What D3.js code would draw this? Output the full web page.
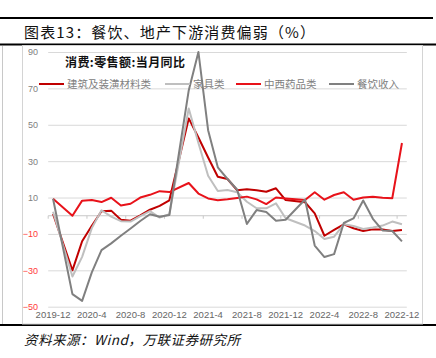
<!DOCTYPE html>
<html>
<head>
<meta charset="utf-8">
<script src="https://cdn.jsdelivr.net/npm/d3@7/dist/d3.min.js"></script>
<style>
    body { margin: 0; background: #fff; }
    svg { display: block; font-family: "Liberation Sans", Arial, sans-serif; }
    .cjk { font-family: "Noto Sans CJK SC", sans-serif; }
</style>
</head>
<body>
<div id="chart"></div>
<script>
const width = 436, height = 358;
const plot = { left: 48.2, right: 406.8, top: 52, bottom: 306.7 };

// Data points (Jan-Feb combined, plotted at Feb)
const dates = [
    "2019-12", "2020-02", "2020-03", "2020-04", "2020-05", "2020-06", "2020-07", "2020-08",
    "2020-09", "2020-10", "2020-11", "2020-12", "2021-02", "2021-03", "2021-04", "2021-05",
    "2021-06", "2021-07", "2021-08", "2021-09", "2021-10", "2021-11", "2021-12", "2022-02",
    "2022-03", "2022-04", "2022-05", "2022-06", "2022-07", "2022-08", "2022-09", "2022-10",
    "2022-11", "2022-12"
];
const building = [
    1.0, -30, -14, -5.5, 2.5, 2.8, -2.2, -2.7, 0.2, 3.3, 5.4, 8.5, 53.5, 43, 32, 21.4,
    20.2, 14, 14.5, 14, 13.2, 15.1, 8.6, 7.4, 1.3, -11, -7.8, -4.7, -6.9, -8.4, -7.5, -7.6,
    -8.4, -7.8
];
const furniture = [
    2.2, -33.4, -22.6, -6.8, 3, -0.5, -3, -3.2, -0.2, 2.5, -1, 0.8, 59, 40, 22, 13.6,
    14.1, 12.9, 7.7, 4.1, 4.1, 6.8, -1.4, -5.4, -8.4, -12.8, -11.5, -4.7, -5.6, -7.3, -6.5, -5.4,
    -3.2, -4.7
];
const medicine = [
    9.3, 0, 8.3, 8.6, 7.5, 9.9, 5.6, 6.6, 10, 11.5, 13.5, 13, 18, 12.2, 9.5, 8.5,
    9, 9.8, 10.5, 9, 6.4, 10, 9.5, 8.6, 12.9, 8.8, 11.4, 12.9, 8.8, 10, 10.4, 9.9,
    9.6, 40
];
const catering = [
    9.3, -43.1, -46.8, -31.1, -18.9, -15.2, -11, -7, -2.9, 0.8, -0.6, 0.4, 68.9, 90, 47, 26.6,
    20.2, 14.3, -4.5, 3.1, 2, -2.7, -2.2, 8.9, -16.4, -22.7, -21.1, -4, -1.5, 8.4, -1.7, -8.1,
    -8.4, -14.1
];

const seriesNames = ["建筑及装潢材料类", "家具类", "中西药品类", "餐饮收入"];
const seriesValues = [building, furniture, medicine, catering];
const seriesColors = ["#c00000", "#bfbfbf", "#e8121a", "#808080"];

const yTicks = [-50, -30, -10, 10, 30, 50, 70, 90];
const xTickLabels = ["2019-12", "2020-4", "2020-8", "2020-12", "2021-4", "2021-8",
    "2021-12", "2022-4", "2022-8", "2022-12"];

const fmt = d3.timeFormat("%Y-%m");
const months = d3.timeMonth.range(new Date(2019, 11, 1), new Date(2023, 0, 1)).map(fmt);
const toKey = label => {
    const [yr, mo] = label.split("-");
    return yr + "-" + mo.padStart(2, "0");
};

const svg = d3.select("#chart")
    .append("svg")
    .attr("width", width)
    .attr("height", height);

// page rules and frame
svg.append("rect").attr("x", 0).attr("y", 17).attr("width", 433).attr("height", 2).attr("fill", "#000");
svg.append("rect").attr("x", 0).attr("y", 43.5).attr("width", 436).attr("height", 2).attr("fill", "#000");
svg.append("rect").attr("x", 0).attr("y", 324).attr("width", 436).attr("height", 2).attr("fill", "#000");
svg.append("rect")
    .attr("x", 22.5).attr("y", 45.5)
    .attr("width", 400).attr("height", 278.5)
    .attr("fill", "none").attr("stroke", "#d4d4d4");
svg.append("line")
    .attr("x1", 2.5).attr("x2", 2.5).attr("y1", 46).attr("y2", 324)
    .attr("stroke", "#c8c8c8");

svg.append("text")
    .attr("class", "cjk")
    .attr("x", 24).attr("y", 38)
    .attr("font-size", 15)
    .attr("textLength", 291)
    .attr("fill", "#111")
    .text("图表13：餐饮、地产下游消费偏弱（%）");

svg.append("text")
    .attr("class", "cjk")
    .attr("x", 24).attr("y", 345)
    .attr("font-size", 13.5)
    .attr("font-style", "italic")
    .attr("textLength", 216)
    .attr("fill", "#111")
    .text("资料来源：Wind，万联证券研究所");

// scales
const x = d3.scaleBand()
    .domain(months)
    .range([plot.left, plot.right])
    .paddingInner(0).paddingOuter(0);

const y = d3.scaleLinear()
    .domain([-50, 90])
    .range([plot.bottom, plot.top]);

// gridlines
svg.append("g")
    .attr("transform", `translate(${plot.left},0)`)
    .call(d3.axisLeft(y).tickValues(yTicks).tickSize(-(plot.right - plot.left)).tickFormat(""))
    .call(g => g.select(".domain").remove())
    .call(g => g.selectAll("line").attr("stroke", "#d9d9d9"));

// y labels
svg.append("g")
    .attr("transform", "translate(38,0)")
    .call(d3.axisLeft(y).tickValues(yTicks).tickSize(0).tickPadding(0))
    .call(g => g.select(".domain").remove())
    .call(g => g.selectAll("text")
        .attr("font-size", 9)
        .attr("font-family", "Liberation Sans, Arial, sans-serif")
        .attr("fill", d => d < 0 ? "#ff3b3b" : "#808080"));

// zero axis with ticks at category edges
const tickKeys = xTickLabels.map(toKey);
svg.append("line")
    .attr("x1", plot.left).attr("x2", plot.right)
    .attr("y1", y(0)).attr("y2", y(0))
    .attr("stroke", "#c8c8c8");
svg.append("g")
    .attr("transform", `translate(${-x.bandwidth() / 2},${y(0)})`)
    .call(d3.axisBottom(x).tickValues(tickKeys).tickSize(3).tickFormat(""))
    .call(g => g.select(".domain").remove())
    .call(g => g.selectAll("line").attr("stroke", "#c8c8c8"));

// x labels at the bottom
svg.append("g")
    .attr("transform", `translate(0,${plot.bottom})`)
    .call(d3.axisBottom(x).tickValues(tickKeys).tickSize(0).tickPadding(5)
        .tickFormat((d, i) => xTickLabels[i]))
    .call(g => g.select(".domain").remove())
    .call(g => g.selectAll("text")
        .attr("font-size", 9.5)
        .attr("font-family", "Liberation Sans, Arial, sans-serif")
        .attr("fill", "#666"));

// lines
const line = d3.line()
    .x(d => x(d.date) + x.bandwidth() / 2)
    .y(d => y(d.value));

seriesValues.forEach((vals, i) => {
    const pts = dates.map((d, j) => ({ date: d, value: vals[j] }));
    svg.append("path")
        .datum(pts)
        .attr("d", line)
        .attr("fill", "none")
        .attr("stroke", seriesColors[i])
        .attr("stroke-width", 2)
        .attr("stroke-linejoin", "round");
});

// legend
svg.append("text")
    .attr("class", "cjk")
    .attr("x", 65).attr("y", 67)
    .attr("font-size", 12)
    .attr("font-weight", "bold")
    .attr("textLength", 120)
    .attr("fill", "#111")
    .text("消费:零售额:当月同比");

const legendX = [39, 165, 236, 329];
seriesNames.forEach((name, i) => {
    const g = svg.append("g").attr("transform", `translate(${legendX[i]},84)`);
    g.append("line")
        .attr("x1", 0).attr("x2", 25)
        .attr("stroke", seriesColors[i])
        .attr("stroke-width", 2);
    g.append("text")
        .attr("class", "cjk")
        .attr("x", 28).attr("y", 4)
        .attr("font-size", 10.5)
        .attr("fill", "#808080")
        .text(name);
});
</script>
</body>
</html>
